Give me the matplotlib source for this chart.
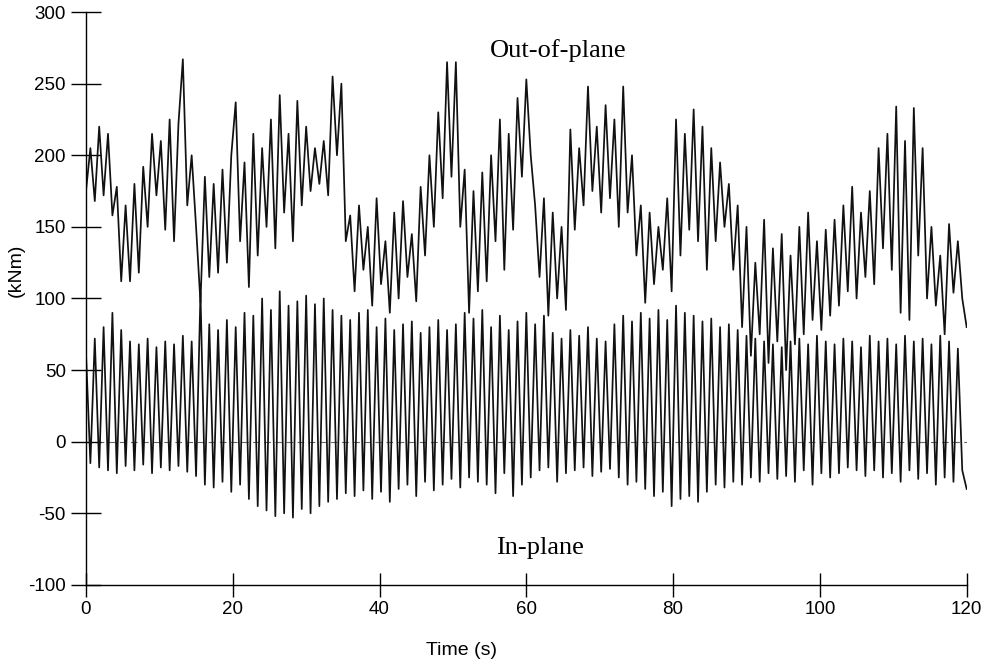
import numpy as np
import matplotlib
matplotlib.use("Agg")
import matplotlib.pyplot as plt

# sampled every 0.6 s, 0..120 s
dt = 0.6

in_plane = [
    62, -15, 72, -18, 80, -20, 90, -22, 78, -17,
    70, -20, 68, -16, 72, -22, 66, -18, 70, -20,
    68, -17, 74, -21, 70, -24, 104, -30, 82, -32,
    78, -28, 85, -35, 80, -30, 90, -40, 88, -45,
    100, -48, 92, -52, 105, -50, 95, -53, 98, -47,
    102, -50, 96, -45, 100, -42, 92, -40, 88, -36,
    85, -38, 90, -34, 92, -40, 80, -35, 86, -42,
    78, -33, 82, -30, 84, -38, 76, -28, 80, -34,
    85, -30, 78, -26, 82, -32, 90, -25, 86, -28,
    92, -30, 80, -36, 88, -22, 78, -38, 84, -30,
    90, -25, 82, -20, 88, -18, 76, -28, 72, -22,
    78, -20, 74, -18, 80, -24, 72, -21, 70, -19,
    82, -25, 88, -30, 84, -28, 90, -33, 86, -38,
    92, -35, 85, -45, 95, -40, 90, -38, 88, -42,
    84, -35, 86, -30, 80, -32, 82, -28, 78, -30,
    74, -25, 72, -28, 70, -22, 68, -26, 66, -24,
    70, -28, 72, -20, 68, -30, 74, -22, 70, -25,
    68, -22, 72, -18, 70, -20, 66, -24, 74, -20,
    70, -25, 72, -22, 68, -28, 74, -20, 70, -26,
    72, -22, 68, -30, 74, -25, 70, -28, 65, -20,
    -33,
]

out_of_plane = [
    175, 205, 168, 220, 172, 215, 158, 178, 112, 165,
    112, 180, 118, 192, 150, 215, 172, 210, 148, 225,
    140, 222, 267, 165, 200, 150, 97, 185, 115, 180,
    118, 190, 125, 200, 237, 140, 195, 108, 215, 130,
    205, 150, 225, 135, 242, 160, 215, 140, 238, 165,
    220, 175, 205, 180, 210, 172, 255, 200, 250, 140,
    158, 105, 165, 120, 150, 95, 170, 110, 140, 90,
    160, 100, 168, 115, 145, 98, 178, 130, 200, 150,
    230, 170, 265, 185, 265, 150, 190, 90, 175, 105,
    188, 112, 200, 140, 225, 120, 215, 148, 240, 185,
    253, 200, 165, 115, 170, 88, 160, 100, 150, 92,
    218, 148, 205, 165, 248, 175, 220, 160, 235, 170,
    225, 150, 248, 160, 200, 130, 165, 97, 160, 110,
    150, 120, 170, 105, 225, 130, 215, 148, 232, 140,
    220, 120, 205, 140, 195, 150, 180, 120, 165, 80,
    150, 60, 125, 75, 155, 55, 135, 70, 145, 50,
    130, 68, 150, 75, 160, 85, 140, 78, 148, 88,
    155, 95, 165, 105, 178, 100, 160, 115, 175, 110,
    205, 135, 215, 120, 234, 90, 210, 85, 233, 130,
    205, 100, 150, 95, 130, 75, 152, 104, 140, 100,
    80,
]

x_ticks = [0, 20, 40, 60, 80, 100, 120]
y_ticks = [-100, -50, 0, 50, 100, 150, 200, 250, 300]

t = np.arange(len(in_plane)) * dt

plt.rcParams["font.family"] = ["Liberation Sans", "DejaVu Sans"]
plt.rcParams["axes.unicode_minus"] = False

fig = plt.figure(figsize=(9.94, 6.70), dpi=100)
ax = fig.add_axes([0.0865, 0.127, 0.886, 0.855])

ax.axhline(0, color="#666666", lw=0.8, ls=(0, (6, 4)), zorder=1)
ax.plot(t, out_of_plane, color="#111111", lw=1.25, zorder=2)
ax.plot(t, in_plane, color="#111111", lw=1.25, zorder=2)

ax.set_xlim(0, 120)
ax.set_ylim(-100, 300)
ax.set_xticks(x_ticks)
ax.set_yticks(y_ticks)
for s in ("top", "right"):
    ax.spines[s].set_visible(False)
ax.spines["left"].set_linewidth(1.0)
ax.spines["bottom"].set_linewidth(1.0)
ax.tick_params(axis="y", direction="inout", length=21, width=1.0, pad=4, labelsize=13.5)
ax.tick_params(axis="x", direction="inout", length=17, width=1.0, pad=3, labelsize=13.5)

ax.set_xlabel("Time (s)", fontsize=14)
ax.xaxis.set_label_coords(0.426, -0.1)
ax.set_ylabel("(kNm)", fontsize=14)
ax.yaxis.set_label_coords(-0.069, 0.55)

ax.text(64.3, 273, "Out-of-plane", family=["Liberation Serif", "DejaVu Serif"],
        fontsize=19, ha="center", va="center")
ax.text(61.8, -74, "In-plane", family=["Liberation Serif", "DejaVu Serif"],
        fontsize=19, ha="center", va="center")

fig.savefig("out.png", dpi=100)
